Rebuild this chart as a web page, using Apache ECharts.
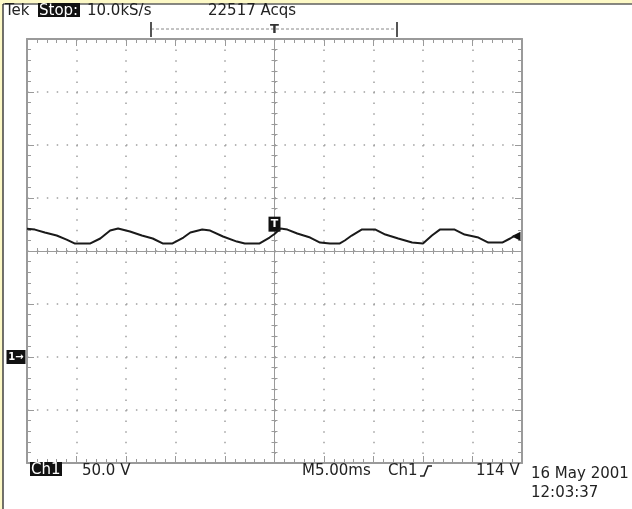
<!DOCTYPE html>
<html>
<head>
<meta charset="utf-8">
<style>
  html, body { margin: 0; padding: 0; background: #fff; }
  #main { width: 632px; height: 509px; }
</style>
<script src="https://cdn.jsdelivr.net/npm/echarts@6/dist/echarts.min.js"></script>
</head>
<body>
<div id="main"></div>
<script>
// 采样点：时间 (ms, 相对触发点) 和 电压 (V)
const timeMs = [-25.0, -24.2, -23.2, -22.0, -21.0, -20.2, -18.6, -17.6, -16.6, -15.8,
  -14.6, -13.4, -12.3, -11.3, -10.3, -9.2, -8.5, -7.3, -6.5, -5.2,
  -3.8, -3.0, -1.5, -0.5, 0.0, 0.6, 1.3, 2.3, 3.6, 4.6,
  5.6, 6.6, 7.1, 7.8, 8.8, 10.2, 11.2, 12.5, 13.9, 15.0,
  15.9, 16.7, 18.2, 19.2, 20.6, 21.6, 23.0, 23.8, 24.3];
const volts = [120.9, 120.2, 117.4, 114.6, 110.8, 107.1, 107.1, 111.8, 119.3, 121.2,
  118.4, 114.6, 111.8, 107.1, 107.1, 112.7, 117.4, 120.2, 119.3, 113.7,
  108.9, 107.1, 107.1, 112.7, 116.0, 121.2, 120.2, 116.5, 112.7, 108.0,
  107.1, 107.1, 109.9, 114.6, 120.2, 120.2, 115.5, 111.8, 108.0, 107.1,
  114.6, 120.2, 120.2, 115.5, 112.7, 108.0, 108.0, 111.8, 114.6];

// 示波器读数
const triggerTime = 0;
const triggerLevel = 114;
const groundLevel = 0;
const topReadout = ['Tek', 'Stop:', '10.0kS/s', '22517 Acqs'];
const bottomReadout = ['Ch1', '50.0 V', 'M5.00ms', 'Ch1', '114 V'];
const dateStamp = ['16 May 2001', '12:03:37'];

const chart = echarts.init(document.getElementById('main'));

const FRAME = '#9a9a9a';
const FONT = '15px "DejaVu Sans"';
const INK = '#222';

// 时间轴：外框 + 中心线（两侧刻度）
function xAxisOf(position, offset, inside, extra) {
  return Object.assign({
    type: 'value', min: -25, max: 25, interval: 5,
    position: position, offset: offset,
    axisLine: { show: false, onZero: false },
    axisTick: { show: true, inside: inside, length: 3, lineStyle: { color: FRAME } },
    minorTick: { show: true, splitNumber: 5, length: 3, lineStyle: { color: FRAME } },
    axisLabel: { show: false },
    splitLine: { show: false }
  }, extra);
}
function yAxisOf(position, offset, inside, extra) {
  return Object.assign({
    type: 'value', min: -100, max: 300, interval: 50,
    position: position, offset: offset,
    axisLine: { show: false, onZero: false },
    axisTick: { show: true, inside: inside, length: 3, lineStyle: { color: FRAME } },
    minorTick: { show: true, splitNumber: 5, length: 3, lineStyle: { color: FRAME } },
    axisLabel: { show: false },
    splitLine: { show: false }
  }, extra);
}

const option = {
  animation: false,
  backgroundColor: '#fff',
  grid: { left: 27, top: 39, width: 495, height: 424, containLabel: false },
  xAxis: [
    xAxisOf('bottom', 0, true, {
      axisLine: { show: true, onZero: false, lineStyle: { color: FRAME, width: 2 } },
      axisTick: { show: true, inside: true, length: 7, lineStyle: { color: FRAME } },
      minorTick: { show: true, splitNumber: 5, length: 4, lineStyle: { color: FRAME } },
      splitLine: { show: true, lineStyle: { color: '#a0a0a0', width: 1.5, type: [1.5, 9.1] } }
    }),
    xAxisOf('top', 0, true, {
      axisLine: { show: true, onZero: false, lineStyle: { color: FRAME, width: 2 } },
      axisTick: { show: true, inside: true, length: 7, lineStyle: { color: FRAME } },
      minorTick: { show: true, splitNumber: 5, length: 4, lineStyle: { color: FRAME } }
    }),
    xAxisOf('bottom', -212, true, {
      axisLine: { show: true, onZero: false, lineStyle: { color: FRAME, width: 1 } }
    }),
    xAxisOf('bottom', -212, false)
  ],
  yAxis: [
    yAxisOf('left', 0, true, {
      axisLine: { show: true, onZero: false, lineStyle: { color: FRAME, width: 2 } },
      axisTick: { show: true, inside: true, length: 7, lineStyle: { color: FRAME } },
      minorTick: { show: true, splitNumber: 5, length: 4, lineStyle: { color: FRAME } },
      splitLine: { show: true, lineStyle: { color: '#a0a0a0', width: 1.5, type: [1.5, 8.4] } }
    }),
    yAxisOf('right', 0, true, {
      axisLine: { show: true, onZero: false, lineStyle: { color: FRAME, width: 2 } },
      axisTick: { show: true, inside: true, length: 7, lineStyle: { color: FRAME } },
      minorTick: { show: true, splitNumber: 5, length: 4, lineStyle: { color: FRAME } }
    }),
    yAxisOf('left', -247.5, true, {
      axisLine: { show: true, onZero: false, lineStyle: { color: FRAME, width: 1 } }
    }),
    yAxisOf('left', -247.5, false)
  ],
  series: [
    {
      type: 'line',
      xAxisIndex: 0,
      yAxisIndex: 0,
      clip: false,
      data: timeMs.map((t, i) => [t, volts[i]]),
      symbol: 'none',
      lineStyle: { color: '#1a1a1a', width: 2 },
      z: 5,
      markPoint: {
        silent: true,
        data: [
          {
            coord: [triggerTime, triggerLevel],
            symbol: 'rect', symbolSize: [12, 15], symbolOffset: [0, -12],
            itemStyle: { color: '#111' },
            label: { show: true, formatter: 'T', color: '#fff', fontSize: 11, fontWeight: 'bold', fontFamily: 'DejaVu Sans' }
          },
          {
            coord: [25, triggerLevel],
            symbol: 'triangle', symbolSize: [9, 9], symbolRotate: 90, symbolOffset: [-6, 0],
            itemStyle: { color: '#111' },
            label: { show: false }
          },
          {
            coord: [-25, groundLevel],
            symbol: 'rect', symbolSize: [19, 14], symbolOffset: [-11, 0],
            itemStyle: { color: '#111' },
            label: { show: true, formatter: '1\u2192', color: '#fff', fontSize: 10, fontWeight: 'bold', fontFamily: 'DejaVu Sans' }
          }
        ]
      }
    }
  ],
  graphic: [
    // 黄色边框
    { type: 'rect', shape: { x: 0, y: 0, width: 632, height: 3.5 }, style: { fill: '#fdf9c6' }, z: 10 },
    { type: 'rect', shape: { x: 0, y: 0, width: 2.5, height: 509 }, style: { fill: '#fdf9c6' }, z: 10 },
    { type: 'line', shape: { x1: 3, y1: 4, x2: 632, y2: 4 }, style: { stroke: '#111', lineWidth: 1.2 }, z: 10 },
    { type: 'line', shape: { x1: 3, y1: 4, x2: 3, y2: 509 }, style: { stroke: '#111', lineWidth: 1.2 }, z: 10 },

    // 顶部读数
    { type: 'text', x: 5, y: 11, style: { text: topReadout[0], font: FONT, fill: INK, verticalAlign: 'middle', textVerticalAlign: 'middle' }, z: 11 },
    { type: 'rect', shape: { x: 38, y: 3, width: 42, height: 14 }, style: { fill: '#111' }, z: 11 },
    { type: 'text', x: 39, y: 11, style: { text: topReadout[1], font: FONT, fill: '#fff', verticalAlign: 'middle', textVerticalAlign: 'middle' }, z: 12 },
    { type: 'text', x: 87, y: 11, style: { text: topReadout[2], font: FONT, fill: INK, verticalAlign: 'middle', textVerticalAlign: 'middle' }, z: 11 },
    { type: 'text', x: 208, y: 11, style: { text: topReadout[3], font: FONT, fill: INK, verticalAlign: 'middle', textVerticalAlign: 'middle' }, z: 11 },

    // 记录长度括号
    { type: 'line', shape: { x1: 151, y1: 29, x2: 397, y2: 29 }, style: { stroke: '#888', lineWidth: 1, lineDash: [3, 2] }, z: 11 },
    { type: 'line', shape: { x1: 151, y1: 22, x2: 151, y2: 37 }, style: { stroke: '#555', lineWidth: 2 }, z: 11 },
    { type: 'line', shape: { x1: 397, y1: 22, x2: 397, y2: 37 }, style: { stroke: '#555', lineWidth: 2 }, z: 11 },
    { type: 'text', x: 274.5, y: 30, style: { text: 'T', font: 'bold 13px "DejaVu Sans"', fill: '#333', align: 'center', textAlign: 'center', verticalAlign: 'middle', textVerticalAlign: 'middle' }, z: 11 },

    // 底部读数
    { type: 'rect', shape: { x: 30, y: 462, width: 32, height: 14 }, style: { fill: '#111' }, z: 11 },
    { type: 'text', x: 31, y: 470, style: { text: bottomReadout[0], font: FONT, fill: '#fff', verticalAlign: 'middle', textVerticalAlign: 'middle' }, z: 12 },
    { type: 'text', x: 82, y: 471, style: { text: bottomReadout[1], font: FONT, fill: INK, verticalAlign: 'middle', textVerticalAlign: 'middle' }, z: 11 },
    { type: 'text', x: 302, y: 471, style: { text: bottomReadout[2], font: FONT, fill: INK, verticalAlign: 'middle', textVerticalAlign: 'middle' }, z: 11 },
    { type: 'text', x: 388, y: 471, style: { text: bottomReadout[3], font: FONT, fill: INK, verticalAlign: 'middle', textVerticalAlign: 'middle' }, z: 11 },
    { type: 'polyline', shape: { points: [[420, 476], [424, 476], [428, 466], [432, 466]] }, style: { stroke: INK, lineWidth: 1.6, fill: null }, z: 11 },
    { type: 'text', x: 476, y: 471, style: { text: bottomReadout[4], font: FONT, fill: INK, verticalAlign: 'middle', textVerticalAlign: 'middle' }, z: 11 },
    { type: 'text', x: 531, y: 474, style: { text: dateStamp[0], font: FONT, fill: INK, verticalAlign: 'middle', textVerticalAlign: 'middle' }, z: 11 },
    { type: 'text', x: 531, y: 493, style: { text: dateStamp[1], font: FONT, fill: INK, verticalAlign: 'middle', textVerticalAlign: 'middle' }, z: 11 }
  ]
};

chart.setOption(option);
</script>
</body>
</html>
